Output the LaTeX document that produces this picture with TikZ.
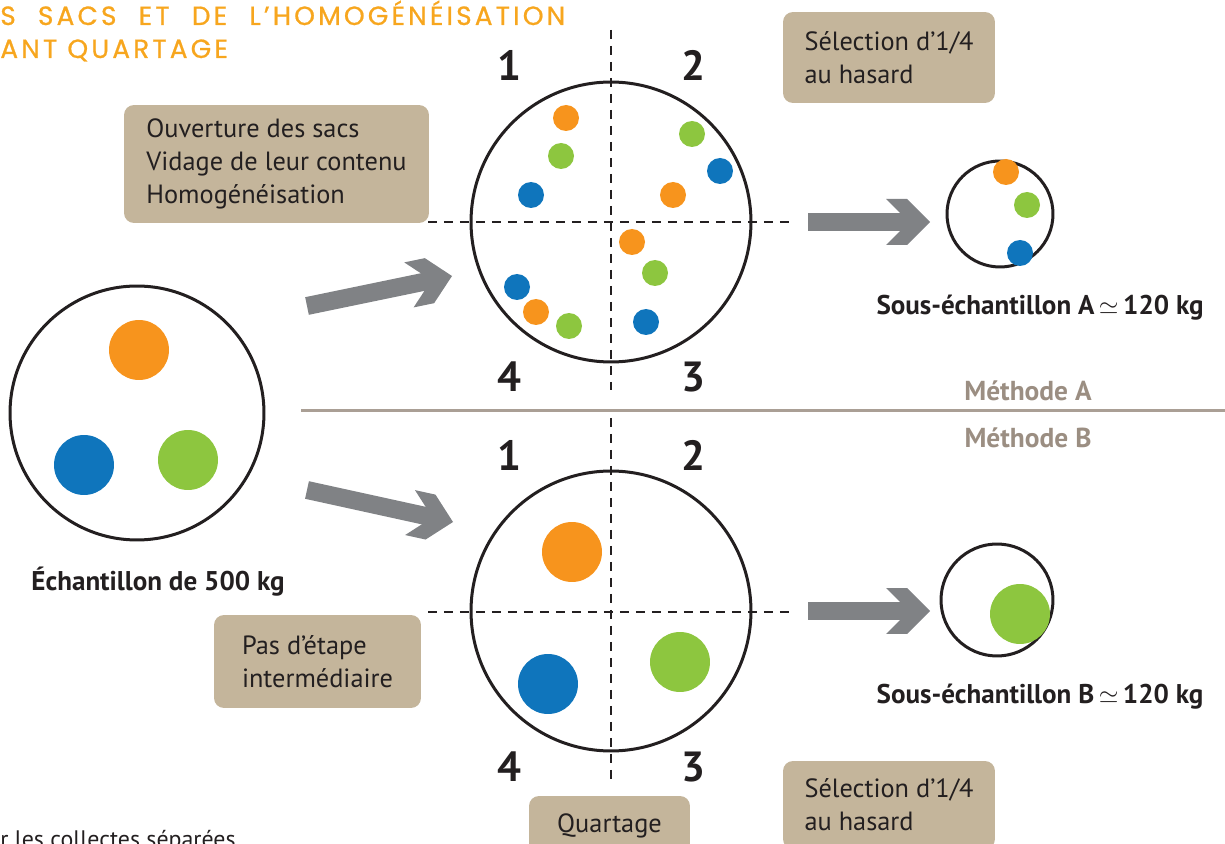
\documentclass[tikz,border=0pt]{standalone}
\usepackage{fontspec}
\setmainfont{PT Sans}
\newfontfamily\titrefont[FakeBold=0.8]{Poppins}
\usetikzlibrary{shapes,arrows.meta,positioning}
\definecolor{orangeq}{RGB}{247,148,29}
\definecolor{vertq}{RGB}{141,198,63}
\definecolor{bleuq}{RGB}{15,117,188}
\definecolor{sable}{RGB}{196,181,155}
\definecolor{grisfleche}{RGB}{128,130,133}
\definecolor{taupe}{RGB}{155,142,130}
\definecolor{encre}{RGB}{35,31,32}
\definecolor{titreq}{RGB}{247,166,30}
\pgfdeclarearrow{
  name = Chevron,
  setup code = {
    \pgfarrowssettipend{0pt}
    \pgfarrowssetlineend{-16pt}
    \pgfarrowssetvisualbackend{-25.04pt}
    \pgfarrowssetbackend{-25.04pt}
    \pgfarrowshullpoint{0pt}{0pt}
    \pgfarrowshullpoint{-25.04pt}{13.09pt}
    \pgfarrowshullpoint{-25.04pt}{-13.09pt}
  },
  drawing code = {
    \pgfpathmoveto{\pgfpoint{0pt}{0pt}}
    \pgfpathlineto{\pgfpoint{-13.09pt}{13.09pt}}
    \pgfpathlineto{\pgfpoint{-25.04pt}{13.09pt}}
    \pgfpathlineto{\pgfpoint{-17.07pt}{5.12pt}}
    \pgfpathlineto{\pgfpoint{-17.07pt}{-5.12pt}}
    \pgfpathlineto{\pgfpoint{-25.04pt}{-13.09pt}}
    \pgfpathlineto{\pgfpoint{-13.09pt}{-13.09pt}}
    \pgfpathclose
    \pgfusepathqfill
  }
}
\tikzstyle{cercle} = [circle, draw=encre, line width=0.06cm, inner sep=0pt]
\tikzstyle{bloc} = [rectangle, fill=sable, text=encre, rounded corners=0.2cm,
    align=left, inner sep=0pt, font=\fontsize{15}{18.8}\selectfont]
\tikzstyle{numero} = [text=encre, font=\fontsize{24}{28}\selectfont\bfseries]
\tikzstyle{etiquette} = [text=encre, font=\fontsize{15.4}{18}\selectfont\bfseries]
\tikzstyle{methode} = [text=taupe, font=\fontsize{15.6}{18}\selectfont\bfseries]
\tikzstyle{titre} = [anchor=base west, inner sep=0pt, text=titreq,
    font=\titrefont\fontsize{15}{18}\selectfont\addfontfeatures{LetterSpace=12}]
\tikzstyle{quart} = [draw=encre, line width=0.04cm, dash pattern=on 0.18cm off 0.14cm]
\tikzstyle{fleche} = [color=grisfleche, line width=0.36cm, -Chevron]
\tikzstyle{separation} = [draw=taupe!85, line width=0.06cm]
\tikzset{pastille/.style={circle, fill=#1, inner sep=0pt, minimum size=0.52cm},
    grossepastille/.style={circle, fill=#1, inner sep=0pt, minimum size=1.2cm}}

\begin{document}
\begin{tikzpicture}[x=0.02cm, y=-0.02cm]
  \useasboundingbox (0,0) rectangle (1225,844);
  \clip (0,0) rectangle (1225,844);
  \node [titre] (titre1) at (0,25) {\makebox[11.3cm][s]{S SACS ET DE L’HOMOGÉNÉISATION}};
  \node [titre] (titre2) at (0,58) {ANT QUARTAGE};
  \node [anchor=base west, inner sep=0pt, text=encre, font=\fontsize{13.6}{17}\selectfont] (note) at (0,847)
    {r les collectes séparées};

  \node [cercle, minimum size=5.08cm] (echantillon) at (137,413) {};
  \node [grossepastille=orangeq] (e1) at (139,350) {};
  \node [grossepastille=bleuq] (e2) at (84,465) {};
  \node [grossepastille=vertq] (e3) at (188,460) {};
  \node [etiquette] (lechantillon) at (158,582) {Échantillon de 500 kg};

  \node [cercle, minimum size=5.6cm] (quartA) at (611,222) {};
  \draw [quart] (611,30) -- (611,390);
  \draw [quart] (428,222) -- (790,222);
  \foreach \x/\y/\c [count=\i] in {566/118/orangeq, 561/156/vertq, 531/195/bleuq,
      692/134/vertq, 720/171/bleuq, 673/195/orangeq, 632/242/orangeq, 655/273/vertq,
      517/287/bleuq, 536/312/orangeq, 569/326/vertq, 646/322/bleuq}
    \node [pastille=\c] (pA\i) at (\x,\y) {};
  \node [numero] (a1) at (509,65) {1};
  \node [numero] (a2) at (693,65) {2};
  \node [numero] (a4) at (509,377) {4};
  \node [numero] (a3) at (693,377) {3};

  \node [cercle, minimum size=2.12cm] (sousA) at (1000,214) {};
  \node [pastille=orangeq] (sA1) at (1006,172) {};
  \node [pastille=vertq] (sA2) at (1027,205) {};
  \node [pastille=bleuq] (sA3) at (1020,253) {};
  \node [etiquette] (lsousA) at (1040,308) {Sous-échantillon A\,$\simeq$\,120 kg};

  \node [cercle, minimum size=5.6cm] (quartB) at (611,611) {};
  \draw [quart] (611,418) -- (611,785);
  \draw [quart] (428,612) -- (790,612);
  \node [grossepastille=orangeq] (pB1) at (572,552) {};
  \node [grossepastille=bleuq] (pB2) at (548,684) {};
  \node [grossepastille=vertq] (pB3) at (680,662) {};
  \node [numero] (b1) at (509,455) {1};
  \node [numero] (b2) at (693,455) {2};
  \node [numero] (b4) at (509,767) {4};
  \node [numero] (b3) at (693,767) {3};

  \node [cercle, minimum size=2.24cm] (sousB) at (997,600) {};
  \node [grossepastille=vertq] (sB1) at (1020,614) {};
  \node [etiquette] (lsousB) at (1040,697) {Sous-échantillon B\,$\simeq$\,120 kg};

  \coordinate (sepG) at (301,411);
  \coordinate (sepD) at (1225,411);
  \draw [separation] (sepG) -- (sepD);
  \node [methode] (methA) at (1028,391) {Méthode A};
  \node [methode] (methB) at (1028,438) {Méthode B};

  \coordinate (depA) at (307,306);
  \coordinate (finA) at (452,276);
  \coordinate (depB) at (307,490);
  \coordinate (finB) at (453,522);
  \coordinate (depSA) at (808,222);
  \coordinate (finSA) at (930,222);
  \coordinate (depSB) at (808,611);
  \coordinate (finSB) at (930,611);
  \draw [fleche] (depA) -- (finA);
  \draw [fleche] (depB) -- (finB);
  \draw [fleche] (depSA) -- (finSA);
  \draw [fleche] (depSB) -- (finSB);

  \node [bloc, minimum width=4.24cm, minimum height=1.82cm] (selA) at (889,57.5)
    {Sélection d’1/4\\au hasard};
  \node [bloc, minimum width=6.1cm, minimum height=2.36cm] (ouverture) at (276.5,164)
    {Ouverture des sacs\\Vidage de leur contenu\\Homogénéisation};
  \node [bloc, minimum width=4.14cm, minimum height=1.86cm] (pasetape) at (317.5,661.5)
    {Pas d’étape\\intermédiaire};
  \node [bloc, minimum width=3.22cm, minimum height=1.2cm] (quartage) at (609.5,826)
    {Quartage};
  \node [bloc, minimum width=4.24cm, minimum height=1.76cm] (selB) at (889,805)
    {Sélection d’1/4\\au hasard};
\end{tikzpicture}
\end{document}
